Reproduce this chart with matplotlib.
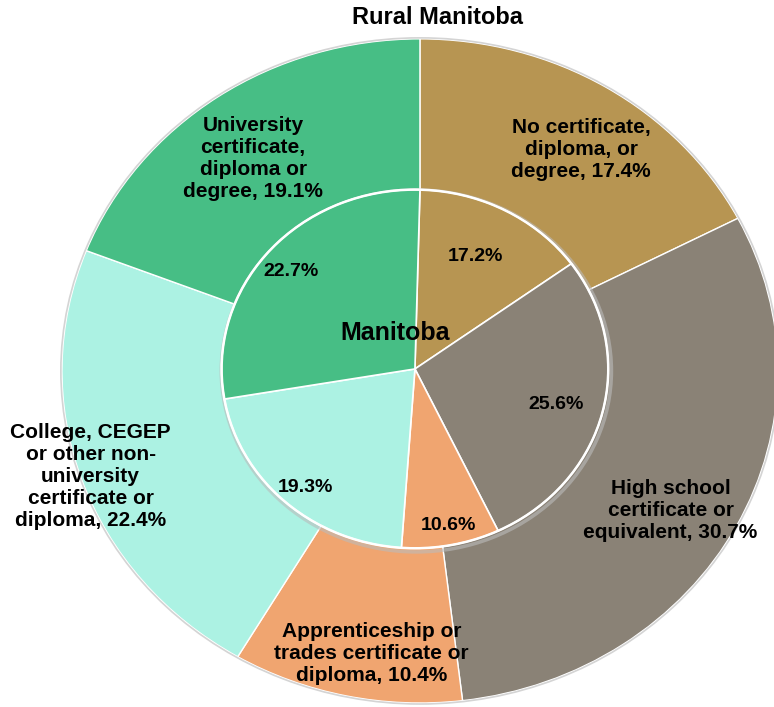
import matplotlib.pyplot as plt

plt.rcParams["font.family"] = ["Liberation Sans", "DejaVu Sans"]

CATEGORIES = [
    "No certificate, diploma, or degree",
    "High school certificate or equivalent",
    "Apprenticeship or trades certificate or diploma",
    "College, CEGEP or other non-university certificate or diploma",
    "University certificate, diploma or degree",
]
COLORS = ["#B79552", "#8A8276", "#F0A570", "#ACF2E3", "#47BE85"]

# Rural Manitoba (outer ring)
RURAL_PCT = [17.4, 30.7, 10.4, 22.4, 19.1]
RURAL_TEXT = [
    "No certificate,\ndiploma, or\ndegree, 17.4%",
    "High school\ncertificate or\nequivalent, 30.7%",
    "Apprenticeship or\ntrades certificate or\ndiploma, 10.4%",
    "College, CEGEP\nor other non-\nuniversity\ncertificate or\ndiploma, 22.4%",
    "University\ncertificate,\ndiploma or\ndegree, 19.1%",
]

# Manitoba (inner pie): printed labels, and wedge sizes as drawn in the source
MB_PCT = [17.2, 25.6, 10.6, 19.3, 22.7]
MB_DRAWN = [14.6, 27.9, 8.2, 21.2, 28.1]

# label positions in data units (outer radius = 1)
RURAL_POS = [(0.45, 0.666), (0.70, -0.42), (-0.135, -0.852), (-0.92, -0.319), (-0.466, 0.639)]
MB_POS = [(0.155, 0.345), (0.38, -0.10), (0.08, -0.465), (-0.32, -0.35), (-0.36, 0.30)]

fig = plt.figure(figsize=(7.74, 7.07), dpi=100)
ax = fig.add_axes([0, 0, 1, 1])

ax.pie(
    RURAL_PCT, colors=COLORS, startangle=90, counterclock=False, radius=1.0,
    wedgeprops=dict(edgecolor="white", linewidth=1.0),
)
# soft outline round the outer ring
ax.pie([1], colors=["none"], radius=1.003,
       wedgeprops=dict(edgecolor="#d4d4d4", linewidth=1.2, fill=False))

mb_center = (-0.014, 0.006)
ax.pie([1], colors=["none"], radius=0.545, center=(mb_center[0] + 0.004, mb_center[1] - 0.006),
       wedgeprops=dict(edgecolor="#bbbbbb", linewidth=2.5, fill=False, alpha=0.6))
ax.pie(
    MB_DRAWN, colors=COLORS, startangle=88.5, counterclock=False, radius=0.54,
    center=mb_center, wedgeprops=dict(edgecolor="white", linewidth=1.2),
)
ax.pie([1], colors=["none"], radius=0.54, center=mb_center,
       wedgeprops=dict(edgecolor="white", linewidth=1.8, fill=False))

ax.set_aspect("auto")
ax.set_xlim(-1.173, 0.989)
ax.set_ylim(-1.012, 1.117)
ax.axis("off")

for txt, (x, y) in zip(RURAL_TEXT, RURAL_POS):
    ax.text(x, y, txt, ha="center", va="center", fontsize=15, fontweight="bold",
            linespacing=1.2, color="black")

for pct, (x, y) in zip(MB_PCT, MB_POS):
    ax.text(x, y, f"{pct:.1f}%", ha="center", va="center", fontsize=14,
            fontweight="bold", color="black")

ax.text(-0.07, 0.115, "Manitoba", ha="center", va="center", fontsize=18, fontweight="bold")
fig.text(0.565, 0.975, "Rural Manitoba", ha="center", va="center", fontsize=17, fontweight="bold")

fig.savefig("out.png", dpi=100, facecolor="white")
